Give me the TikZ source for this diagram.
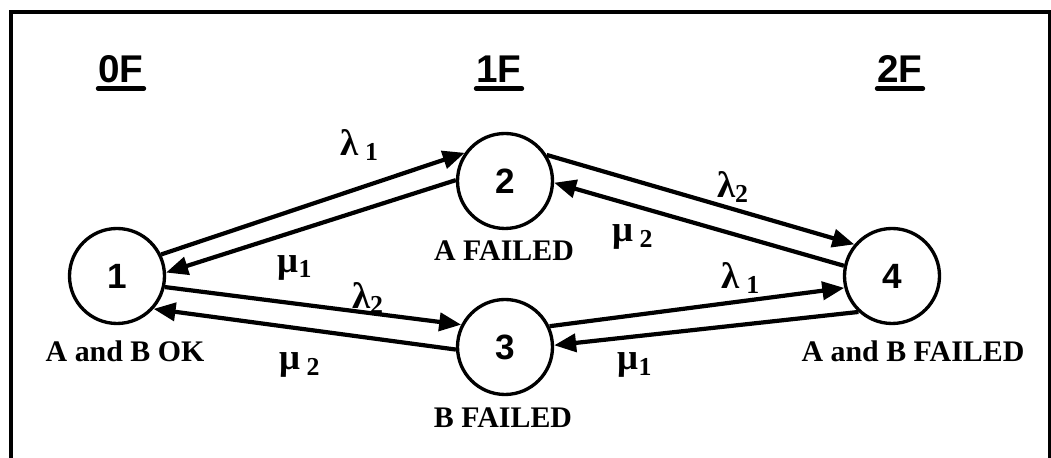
\documentclass[tikz,border=0pt]{standalone}
\usepackage{fontspec}
\setmainfont{Liberation Serif}
\setsansfont{Liberation Sans}
\usetikzlibrary{arrows.meta,positioning}

\begin{document}
\begin{tikzpicture}[node distance=1cm, on grid,
    state/.style={draw, circle, line width=1.9pt, minimum size=1.9cm, inner sep=0pt, font=\fontsize{20}{24}\sffamily\bfseries},
    head/.style={inner sep=0pt, anchor=base, font=\fontsize{22}{26}\sffamily\bfseries},
    statetext/.style={inner sep=0pt, anchor=base, font=\fontsize{17}{20}\bfseries},
    rate/.style={inner sep=0pt, font=\fontsize{21}{24}\bfseries},
    trans/.style={line width=2.4pt, -{Triangle[length=4.4mm,width=3.6mm]}},
    uline/.style={line width=2.6pt, line cap=round}]
    \useasboundingbox (0,0) rectangle (21.02,9.16);
    \draw[line width=1.8pt] (0.22,0) -- (0.22,8.92) -- (21.0,8.92) -- (21.0,0);

    % states
    \node (s1) [state] at (2.34,3.64) {1};
    \node (s2) [state, above right=1.90cm and 7.76cm of s1] {2};
    \node (s3) [state, below right=1.42cm and 7.76cm of s1] {3};
    \node (s4) [state, right=15.5cm of s1] {4};

    % failure counts
    \node (h0) [head] at (2.42,7.50) {0F};
    \node (h1) [head] at (9.98,7.50) {1F};
    \node (h2) [head] at (18.0,7.50) {2F};
    \foreach \h in {h0,h1,h2}
        \draw[uline] ([yshift=-0.11cm]\h.base west) -- ([yshift=-0.11cm]\h.base east);

    \node (c1) [statetext] at (2.50,1.92) {A and B OK};
    \node (c2) [statetext] at (10.08,3.94) {A FAILED};
    \node (c3) [statetext] at (10.06,0.60) {B FAILED};
    \node (c4) [statetext] at (18.26,1.92) {A and B FAILED};

    % transitions
    \draw[trans] (s1.26) -- (s2.145);
    \draw[trans] (s2.179) -- (s1.4);
    \draw[trans] (s2.32) -- (s4.140);
    \draw[trans] (s4.168) -- (s2.-2);
    \draw[trans] (s1.-13) -- (s3.153);
    \draw[trans] (s3.183) -- (s1.-42);
    \draw[trans] (s3.25) -- (s4.194);
    \draw[trans] (s4.227) -- (s3.2);

    \node (r12) [rate] at (7.20,6.26) {λ\,\textsubscript{1}};
    \node (r21) [rate] at (5.90,3.80) {μ\textsubscript{1}};
    \node (r24) [rate] at (14.66,5.42) {λ\textsubscript{2}};
    \node (r42) [rate] at (12.66,4.42) {μ\,\textsubscript{2}};
    \node (r13) [rate] at (7.36,3.20) {λ\textsubscript{2}};
    \node (r31) [rate] at (6.00,1.86) {μ\,\textsubscript{2}};
    \node (r34) [rate] at (14.82,3.60) {λ\,\textsubscript{1}};
    \node (r43) [rate] at (12.70,1.86) {μ\textsubscript{1}};
\end{tikzpicture}
\end{document}
